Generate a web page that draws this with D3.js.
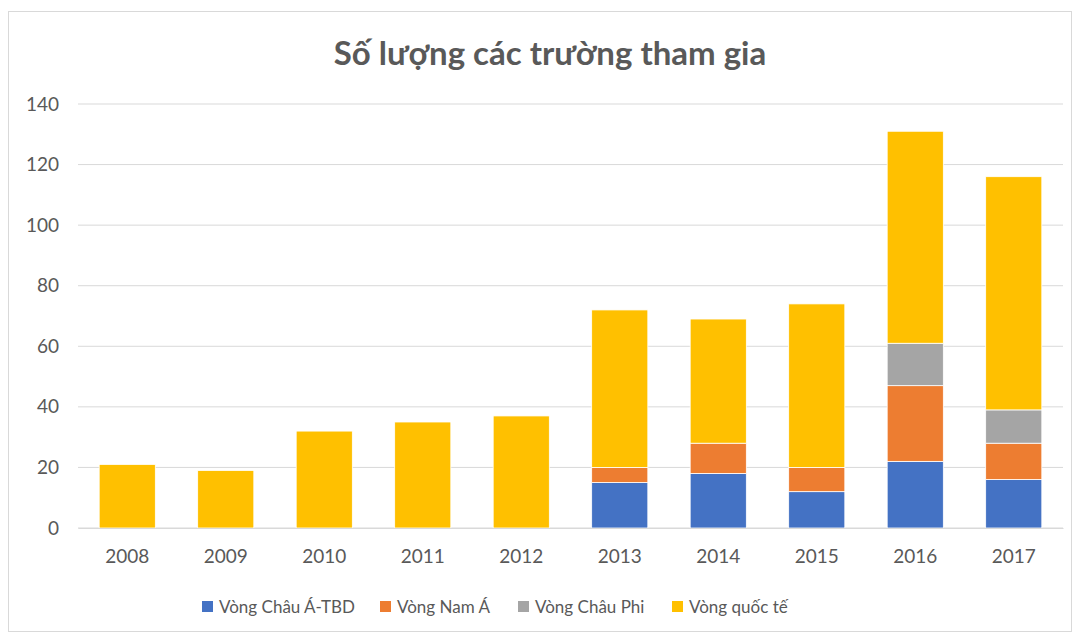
<!DOCTYPE html>
<html>
<head>
<meta charset="utf-8">
<script src="https://cdn.jsdelivr.net/npm/d3@7"></script>
<style>
  body { margin: 0; background: #fff; }
  svg text { font-family: Lato, "Open Sans", sans-serif; fill: #595959; }
</style>
</head>
<body>
<div id="chart"></div>
<script>
const years = ['2008', '2009', '2010', '2011', '2012', '2013', '2014', '2015', '2016', '2017'];
const chauA = [0, 0, 0, 0, 0, 15, 18, 12, 22, 16];
const namA = [0, 0, 0, 0, 0, 5, 10, 8, 25, 12];
const chauPhi = [0, 0, 0, 0, 0, 0, 0, 0, 14, 11];
const quocTe = [21, 19, 32, 35, 37, 52, 41, 54, 70, 77];
const seriesNames = ['Vòng Châu Á-TBD', 'Vòng Nam Á', 'Vòng Châu Phi', 'Vòng quốc tế'];
const colors = ['#4472c4', '#ed7d31', '#a5a5a5', '#ffc000'];
const yTicks = [0, 20, 40, 60, 80, 100, 120, 140];

const width = 1079;
const height = 636;
const margin = { left: 78, right: 1063, top: 104, bottom: 528 };

const svg = d3.select('#chart')
  .append('svg')
  .attr('width', width)
  .attr('height', height);

// frame
svg.append('rect')
  .attr('x', 8.5)
  .attr('y', 11.5)
  .attr('width', 1063)
  .attr('height', 620)
  .attr('fill', '#fff')
  .attr('stroke', '#d9d9d9');

svg.append('text')
  .attr('x', 550)
  .attr('y', 65)
  .attr('text-anchor', 'middle')
  .style('font-size', '33px')
  .style('font-weight', 'bold')
  .text('Số lượng các trường tham gia');

const table = years.map((y, i) => ({
  year: y, s0: chauA[i], s1: namA[i], s2: chauPhi[i], s3: quocTe[i]
}));
const keys = ['s0', 's1', 's2', 's3'];
const stacked = d3.stack().keys(keys)(table);

const x = d3.scaleBand()
  .domain(years)
  .range([margin.left, margin.right])
  .paddingInner(0.43)
  .paddingOuter(0.215);

const y = d3.scaleLinear()
  .domain([0, 140])
  .range([margin.bottom, margin.top]);

// gridlines
svg.append('g')
  .selectAll('line')
  .data(yTicks)
  .enter()
  .append('line')
  .attr('x1', margin.left)
  .attr('x2', margin.right)
  .attr('y1', d => y(d))
  .attr('y2', d => y(d))
  .attr('stroke', '#d9d9d9')
  .attr('stroke-width', 1);

const yAxis = d3.axisLeft(y).tickValues(yTicks).tickSize(0).tickPadding(19);
const gy = svg.append('g')
  .attr('transform', `translate(${margin.left}, 0)`)
  .call(yAxis);
gy.select('.domain').remove();
gy.selectAll('text').style('font-size', '19px');

svg.append('g')
  .selectAll('g')
  .data(stacked)
  .enter()
  .append('g')
  .attr('fill', (d, i) => colors[i])
  .selectAll('rect')
  .data(d => d.filter(p => p[1] - p[0] > 0))
  .enter()
  .append('rect')
  .attr('x', d => x(d.data.year))
  .attr('y', d => y(d[1]))
  .attr('width', x.bandwidth())
  .attr('height', d => y(d[0]) - y(d[1]))
  .attr('stroke', '#fff')
  .attr('stroke-width', 0.8);

const xAxis = d3.axisBottom(x).tickSize(0).tickPadding(22);
const gx = svg.append('g')
  .attr('transform', `translate(0, ${margin.bottom})`)
  .call(xAxis);
gx.select('.domain').attr('stroke', '#d9d9d9');
gx.selectAll('text').style('font-size', '19px');

// legend
const legendX = [202, 380, 518, 672];
const legend = svg.append('g')
  .selectAll('g')
  .data(seriesNames)
  .enter()
  .append('g')
  .attr('transform', (d, i) => `translate(${legendX[i]}, 601)`);
legend.append('rect')
  .attr('width', 11)
  .attr('height', 11)
  .attr('fill', (d, i) => colors[i]);
legend.append('text')
  .attr('x', 17)
  .attr('y', 12)
  .style('font-size', '17px')
  .text(d => d);
</script>
</body>
</html>
